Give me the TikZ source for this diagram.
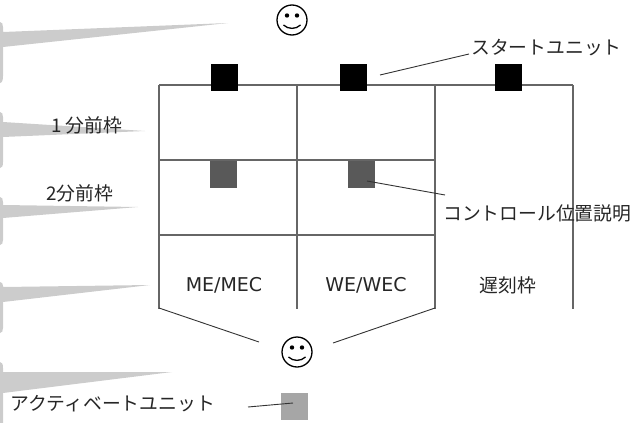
\documentclass[tikz,border=0pt]{standalone}
\usepackage{fontspec}
\setmainfont{DejaVu Sans}
\newfontfamily\jpfont{Noto Sans CJK JP}
\usetikzlibrary{positioning}
\tikzset{
  gridline/.style={draw=black!60, line width=1.1pt},
  thinline/.style={draw=black!80, line width=0.9pt},
  bubble/.style={fill=black!20, draw=none},
  unitbox/.style={draw=none, rectangle, minimum size=27pt, inner sep=0pt},
  jplabel/.style={inner sep=0pt, text=black!85, font=\jpfont\fontsize{18.8}{20}\selectfont},
  codelabel/.style={inner sep=0pt, text=black!85, font=\fontsize{19}{20}\selectfont},
  smiley/.pic={
    \draw[line width=1.3pt] (0,0) circle (15);
    \fill (-5,-4.5) circle (2.2);
    \fill (5,-4.5) circle (2.2);
    \draw[line width=1.3pt] (-8.5,5) .. controls (-4,9.5) and (4,9.5) .. (8.5,5);
  }
}
\begin{document}
\begin{tikzpicture}[x=1pt, y=-1pt]
\useasboundingbox (0,0) rectangle (632,423);

% grey bubbles cut by the left edge
\fill[bubble] (-8,22) -- (0,22) .. controls (2,22) and (3,24) .. (3,27) -- (3,32) -- (228,23) -- (3,47) -- (3,76) .. controls (3,80) and (2,83) .. (0,83) -- (-8,83) -- cycle;
\fill[bubble] (-8,112) -- (0,112) .. controls (2,112) and (3,114) .. (3,117) -- (3,122) -- (145,131) -- (3,137) -- (3,162) .. controls (3,166) and (2,168) .. (0,168) -- (-8,168) -- cycle;
\fill[bubble] (-8,197) -- (0,197) .. controls (2,197) and (3,199) .. (3,202) -- (3,205) -- (138,207) -- (3,218) -- (3,240) .. controls (3,243) and (2,245) .. (0,245) -- (-8,245) -- cycle;
\fill[bubble] (-8,282) -- (0,282) .. controls (2,282) and (3,284) .. (3,286) -- (3,287) -- (150,285) -- (3,302) -- (3,328) .. controls (3,331) and (2,333) .. (0,333) -- (-8,333) -- cycle;
\fill[bubble] (-8,362) -- (0,362) .. controls (2,362) and (3,364) .. (3,368) -- (3,372) -- (172,372) -- (3,393) -- (3,430) -- (-8,430) -- cycle;

% frame
\foreach \x in {159,297,435,573}
  \draw[gridline] (\x,85) -- (\x,309);
\draw[gridline] (159,85) -- (573,85);
\draw[gridline] (159,160) -- (435,160);
\draw[gridline] (159,235) -- (435,235);
\draw[thinline] (159,308) -- (259,342);
\draw[thinline] (435,308) -- (333,343);

% units
\node[unitbox, fill=black] (StartA) at (224.5,77) {};
\node[unitbox, fill=black] (StartB) at (353,77) {};
\node[unitbox, fill=black] (StartC) at (508.5,77) {};
\node[unitbox, fill=black!65] (ControlA) at (223.5,174) {};
\node[unitbox, fill=black!65] (ControlB) at (361.5,174) {};
\node[unitbox, fill=black!35] (ActivateUnit) at (294.5,406) {};

\pic at (292,20) {smiley};
\pic at (297,352) {smiley};

% labels
\node[jplabel, anchor=west] (StartLabel) at (471,48) {スタートユニット};
\node[jplabel, anchor=west] (ControlLabel) at (443,213) {コントロール位置説明};
\node[jplabel, anchor=west] (ActivateLabel) at (10,404) {アクティベートユニット};
\node[jplabel, anchor=west] (OneMin) at (51,125) {1 分前枠};
\node[jplabel, anchor=west] (TwoMin) at (46,193) {2分前枠};
\node[codelabel] (MeLabel) at (224,285) {ME/MEC};
\node[codelabel] (WeLabel) at (366,285) {WE/WEC};
\node[jplabel] (LateLabel) at (508,285) {遅刻枠};

% leaders
\coordinate (StartEnd) at (380,75);
\coordinate (ControlEnd) at (367,181);
\coordinate (ControlFree) at (445,195);
\coordinate (ActivateFree) at (248,407);
\coordinate (ActivateEnd) at (293,403);
\coordinate (StartFree) at (469,54);
\draw[thinline] (StartFree) -- (StartEnd);
\draw[thinline] (ControlFree) -- (ControlEnd);
\draw[thinline] (ActivateFree) -- (ActivateEnd);
\end{tikzpicture}
\end{document}
